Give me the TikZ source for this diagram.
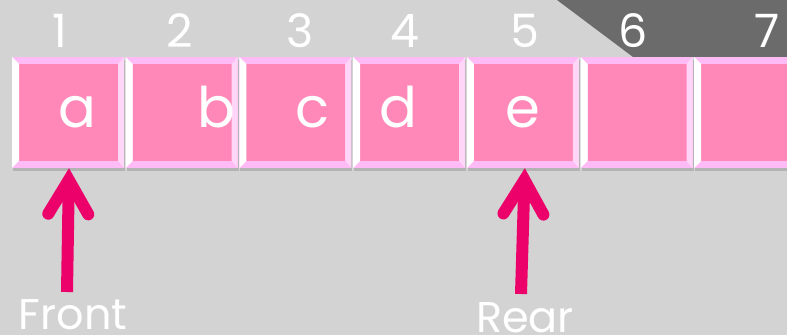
\documentclass[tikz,border=0pt]{standalone}
\usepackage{fontspec}
\setmainfont{Poppins}
\usepackage{xcolor}
\usetikzlibrary{arrows.meta,positioning,shadows}
\definecolor{canvas}{RGB}{211,211,211}
\definecolor{cornergray}{RGB}{107,107,107}
\definecolor{cellrim}{RGB}{255,187,245}
\definecolor{cellside}{RGB}{255,214,247}
\definecolor{cellfill}{RGB}{255,136,184}
\definecolor{arrowpink}{RGB}{236,0,106}
\tikzset{
    cell/.style={
        rectangle, fill=cellrim, inner sep=0pt,
        minimum width=112pt, minimum height=111pt,
        drop shadow={shadow xshift=1pt, shadow yshift=-3pt, opacity=.15, fill=black},
        path picture={
            \fill[cellfill] ([shift={(7pt,7pt)}]path picture bounding box.south west)
                rectangle ([shift={(-6pt,-7pt)}]path picture bounding box.north east);
            \fill[white] (path picture bounding box.south west)
                -- (path picture bounding box.north west) -- ++(7pt,-7pt)
                -- ([shift={(7pt,7pt)}]path picture bounding box.south west) -- cycle;
            \fill[cellside] (path picture bounding box.south east)
                -- (path picture bounding box.north east) -- ++(-6pt,-7pt)
                -- ([shift={(-6pt,7pt)}]path picture bounding box.south east) -- cycle;
        }
    },
    idx/.style={anchor=base, text=white, inner sep=0pt, font=\fontsize{46}{50}\selectfont},
    elem/.style={anchor=base, text=white, inner sep=0pt, font=\fontsize{56}{60}\selectfont},
    tag/.style={anchor=base, text=white, inner sep=0pt, font=\fontsize{43}{48}\selectfont},
    pointer/.style={draw=arrowpink, line width=12pt,
        -{Straight Barb[length=34pt, width=40pt, line cap=round, line join=miter]}}
}

\begin{document}
\begin{tikzpicture}[x=1pt,y=1pt]

\useasboundingbox (0,0) rectangle (787,335);
\fill[canvas] (0,0) rectangle (787,335);
\fill[cornergray] (557,335) -- (787,335) -- (787,278) -- (633,278) -- cycle;

% Cells
\node[cell] (c1) at (68,222.5) {};
\foreach \i [count=\j] in {2,...,7}
    \node[cell, right=1.3pt of c\j] (c\i) {};

% Indices
\foreach \n/\x in {1/60,2/180,3/300,4/405,5/525,6/633,7/767}
    \node[idx] (n\n) at (\x,287) {\n};

% Elements
\node[elem] (ea) at (77,207)  {a};
\node[elem] (eb) at (216,207) {b};
\node[elem] (ec) at (312,207) {c};
\node[elem] (ed) at (398,207) {d};
\node[elem] (ee) at (523,207) {e};

% Front and rear
\node[tag] (front) at (73,6) {Front};
\node[tag] (rear)  at (525,3) {Rear};
\coordinate (fbase) at (67,43);
\coordinate (rbase) at (521,41);
\draw[pointer] (fbase) -- ([xshift=1pt]c1.south);
\draw[pointer] (rbase) -- ([xshift=2pt]c5.south);

\end{tikzpicture}
\end{document}
